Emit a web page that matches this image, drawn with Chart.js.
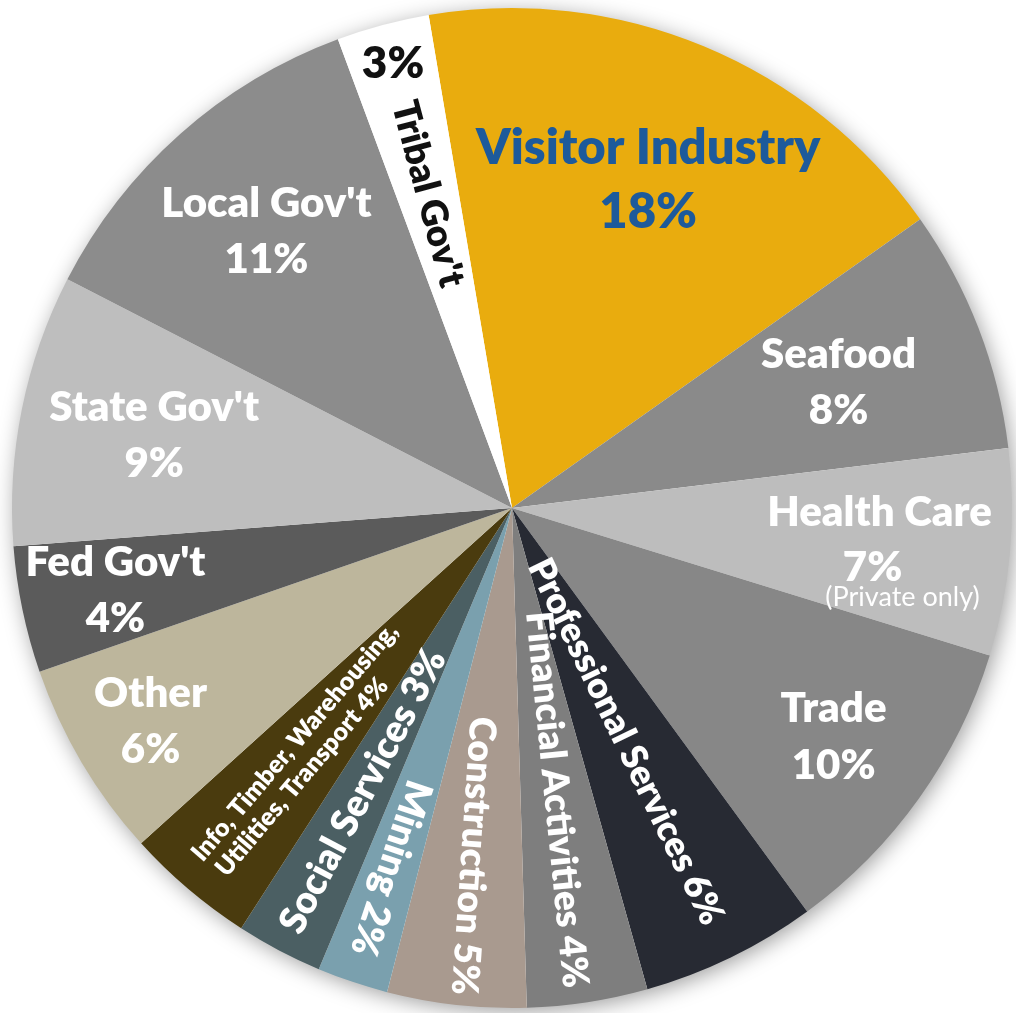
<!DOCTYPE html>
<html>
<head>
<meta charset="utf-8">
<script src="https://cdn.jsdelivr.net/npm/chart.js@4.4.0/dist/chart.umd.min.js"></script>
<style>
  html, body { margin: 0; padding: 0; background: #fff; }
  #chart { display: block; }
</style>
</head>
<body>
<canvas id="chart" width="1016" height="1013"></canvas>
<script>
// slice shares (percent of jobs), clockwise from Visitor Industry
const sectors = ["Visitor Industry", "Seafood", "Health Care", "Trade", "Professional Services",
    "Financial Activities", "Construction", "Mining", "Social Services",
    "Info, Timber, Warehousing, Utilities, Transport", "Other", "Fed Gov't", "State Gov't",
    "Local Gov't", "Tribal Gov't"];
const shares = [17.9, 7.9, 6.7, 10.2, 5.7, 3.9, 4.5, 2.3, 2.8, 4.2, 6.4, 4.1, 8.8, 11.8, 3.0];
const pctText = ["18%", "8%", "7%", "10%", "6%", "4%", "5%", "2%", "3%", "4%", "6%", "4%", "9%", "11%", "3%"];
const colors = ["#e9ac0e", "#8a8a8a", "#bdbdbd", "#878787", "#272a33", "#7e7e7e", "#a99a8f",
    "#7aa0ae", "#4b5f63", "#4a3b0e", "#bdb69c", "#5b5b5b", "#bebebe", "#8c8c8c", "#ffffff"];

// text lines drawn on each slice
const labelLines = [
    ["Visitor Industry", pctText[0]],
    ["Seafood", pctText[1]],
    ["Health Care", pctText[2], "(Private only)"],
    ["Trade", pctText[3]],
    ["Professional Services " + pctText[4]],
    ["Financial Activities " + pctText[5]],
    ["Construction " + pctText[6]],
    ["Mining " + pctText[7]],
    ["Social Services " + pctText[8]],
    ["Info, Timber, Warehousing,", "Utilities, Transport " + pctText[9]],
    ["Other", pctText[10]],
    ["Fed Gov't", pctText[11]],
    ["State Gov't", pctText[12]],
    ["Local Gov't", pctText[13]],
    [pctText[14], "Tribal Gov't"]
];

// placement: d = distance along slice middle (fraction of radius), rot = 0 | 'in' | 'out'
// each line: [dx, dy, size, weight, d override, rot override]
const labelStyle = [
    { d: 0.71, rot: 0, color: "#1d5a9b", lines: [[0, -32, 49, 800], [0, 32, 49, 800]] },
    { d: 0.70, rot: 0, color: "#fff", lines: [[0, -28, 42, 800], [0, 28, 42, 800]] },
    { d: 0.73, rot: 0, color: "#fff", lines: [[4, -28, 42, 800], [-3, 27, 42, 800], [27, 57, 27, 400]] },
    { d: 0.79, rot: 0, color: "#fff", lines: [[0, -29, 42, 800], [0, 28, 42, 800]] },
    { d: 0.52, rot: "out", color: "#fff", lines: [[0, 0, 36, 800]] },
    { d: 0.59, rot: "out", adj: 3, color: "#fff", lines: [[0, 0, 37, 800]] },
    { d: 0.70, rot: "out", adj: -2.5, color: "#fff", lines: [[0, 0, 37, 800]] },
    { d: 0.76, rot: "out", color: "#fff", lines: [[0, 0, 38, 800]] },
    { d: 0.64, rot: "in", color: "#fff", lines: [[0, 0, 38, 800]] },
    { d: 0.66, rot: "in", color: "#fff", lines: [[11, -14, 25, 800], [-11, 14, 25, 800]] },
    { d: 0.84, rot: 0, color: "#fff", lines: [[0, -28, 42, 800], [0, 28, 42, 800]] },
    { d: 0.81, rot: 0, color: "#fff", lines: [[0, -28, 42, 800], [0, 28, 42, 800]] },
    { d: 0.73, rot: 0, color: "#fff", lines: [[0, -28, 42, 800], [0, 28, 42, 800]] },
    { d: 0.74, rot: 0, color: "#fff", lines: [[0, -28, 42, 800], [0, 28, 42, 800]] },
    { d: 0.65, rot: "in", color: "#111", lines: [[0, 0, 44, 800, 0.92, 0], [0, 0, 37, 800]] }
];

const shadowPlugin = {
    id: "pieShadow",
    beforeDatasetsDraw(chart) {
        const arc = chart.getDatasetMeta(0).data[0];
        if (!arc) return;
        const ctx = chart.ctx;
        ctx.save();
        ctx.shadowColor = "rgba(0,0,0,0.4)";
        ctx.shadowBlur = 22;
        ctx.shadowOffsetX = 3;
        ctx.shadowOffsetY = 4;
        ctx.fillStyle = "#fff";
        ctx.beginPath();
        ctx.arc(arc.x, arc.y, arc.outerRadius - 1, 0, Math.PI * 2);
        ctx.fill();
        ctx.restore();
    }
};

const labelPlugin = {
    id: "sliceLabels",
    afterDatasetsDraw(chart) {
        const ctx = chart.ctx;
        const meta = chart.getDatasetMeta(0);
        meta.data.forEach((arc, i) => {
            const st = labelStyle[i];
            const mid = (arc.startAngle + arc.endAngle) / 2;
            labelLines[i].forEach((txt, j) => {
                const ln = st.lines[j];
                const d = (ln[4] !== undefined ? ln[4] : st.d) * arc.outerRadius;
                const rot = ln[5] !== undefined ? ln[5] : st.rot;
                const cx = arc.x + Math.cos(mid) * d;
                const cy = arc.y + Math.sin(mid) * d;
                let a = 0;
                if (rot === "out") a = mid;
                else if (rot === "in") a = mid + Math.PI;
                if (rot) a += (st.adj || 0) * Math.PI / 180;
                ctx.save();
                ctx.translate(cx, cy);
                ctx.rotate(a);
                ctx.font = ln[3] + " " + ln[2] + "px Lato, 'Open Sans', sans-serif";
                ctx.fillStyle = st.color;
                ctx.textAlign = "center";
                ctx.textBaseline = "middle";
                ctx.fillText(txt, ln[0], ln[1]);
                ctx.restore();
            });
        });
    }
};

new Chart(document.getElementById("chart"), {
    type: "pie",
    data: {
        labels: sectors,
        datasets: [{
            data: shares,
            backgroundColor: colors,
            borderWidth: 0
        }]
    },
    options: {
        responsive: false,
        animation: false,
        rotation: -9.6,
        layout: { padding: { left: 12, right: 4, top: 8, bottom: 5 } },
        plugins: {
            legend: { display: false },
            tooltip: { enabled: false }
        }
    },
    plugins: [shadowPlugin, labelPlugin]
});
</script>
</body>
</html>
